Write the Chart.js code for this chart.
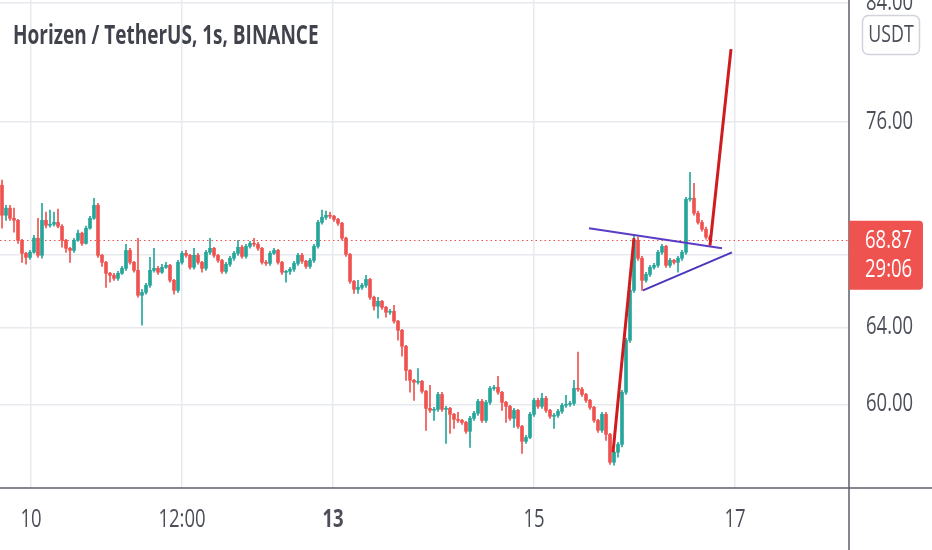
<!doctype html>
<html lang="en">
<head>
<meta charset="utf-8">
<title>Horizen / TetherUS, 1s, BINANCE</title>
<script src="https://cdn.jsdelivr.net/npm/chart.js@4.4.0/dist/chart.umd.min.js"></script>
<style>
  html, body { margin: 0; padding: 0; background: #fff; }
</style>
</head>
<body>
<canvas id="candles" width="932" height="550"></canvas>
<script>
// ZEN/USDT candles, one entry per candle (price scale is logarithmic)
const opens = [72.09,
  70.30,70.72,70.12,70.00,68.84,68.09,67.86,68.15,68.96,67.98,70.00,69.71,69.77,69.88,69.65,68.84,68.38,68.26,68.84,69.25,
  68.66,69.54,70.12,70.89,67.98,67.58,66.96,66.85,66.68,66.96,67.24,68.26,67.58,67.13,65.74,65.90,66.29,67.13,67.24,67.02,
  67.30,67.41,66.57,66.01,67.58,68.09,67.98,67.30,67.98,67.58,67.24,68.15,68.38,67.98,67.69,67.07,67.47,67.81,68.09,68.44,
  67.92,68.49,68.66,68.61,68.38,67.58,67.52,68.09,68.26,67.58,67.02,67.07,67.19,67.52,67.98,67.64,67.35,67.69,68.49,69.88,
  70.18,70.30,70.24,70.06,69.83,68.96,68.03,66.51,66.07,66.18,66.29,66.62,65.63,65.14,65.41,65.08,64.81,64.86,64.33,63.84,
  62.99,61.73,61.22,61.12,61.17,60.66,59.80,59.70,59.75,60.50,59.75,59.80,59.50,59.25,59.20,59.10,58.66,59.30,59.55,60.15,
  59.20,60.10,60.81,60.86,60.61,60.10,59.90,59.30,59.70,58.90,58.17,58.36,59.50,60.20,59.90,60.30,59.70,59.40,59.45,59.65,
  59.95,60.00,60.05,60.81,60.76,60.50,60.20,59.85,59.20,58.71,59.50,58.51,57.16,57.64,58.02,60.61,63.31,66.01,68.84,67.81,
  66.57,66.90,67.30,67.41,68.15,68.49,67.41,67.69,67.58,67.81,68.15,71.25,71.31,70.42,69.88,69.48,69.02];
const closes = [
  70.30,70.72,70.12,70.00,68.84,68.09,67.86,68.15,68.96,67.98,70.00,69.71,69.77,69.88,69.65,68.84,68.38,68.26,68.84,69.25,
  68.66,69.54,70.12,70.89,67.98,67.58,66.96,66.85,66.68,66.96,67.24,68.26,67.58,67.13,65.74,65.90,66.29,67.13,67.24,67.02,
  67.30,67.41,66.57,66.01,67.58,68.09,67.98,67.30,67.98,67.58,67.24,68.15,68.38,67.98,67.69,67.07,67.47,67.81,68.09,68.44,
  67.92,68.49,68.66,68.61,68.38,67.58,67.52,68.09,68.26,67.58,67.02,67.07,67.19,67.52,67.98,67.64,67.35,67.69,68.49,69.88,
  70.18,70.30,70.24,70.06,69.83,68.96,68.03,66.51,66.07,66.18,66.29,66.62,65.63,65.14,65.41,65.08,64.81,64.86,64.33,63.84,
  62.99,61.73,61.22,61.12,61.17,60.66,59.80,59.70,59.75,60.50,59.75,59.80,59.50,59.25,59.20,59.10,58.66,59.30,59.55,60.15,
  59.20,60.10,60.81,60.86,60.61,60.10,59.90,59.30,59.70,58.90,58.17,58.36,59.50,60.20,59.90,60.30,59.70,59.40,59.45,59.65,
  59.95,60.00,60.05,60.81,60.76,60.50,60.20,59.85,59.20,58.71,59.50,58.51,57.16,57.64,58.02,60.61,63.31,66.01,68.84,67.81,
  66.57,66.90,67.30,67.41,68.15,68.49,67.41,67.69,67.58,67.81,68.15,71.25,71.31,70.42,69.88,69.48,69.02,68.87];
const highs = [
  72.40,70.89,70.89,70.72,70.06,68.90,68.15,68.26,69.13,70.12,71.01,70.48,70.60,70.48,70.66,69.75,68.90,68.44,68.96,69.43,
  69.31,69.66,70.24,71.31,71.01,68.03,67.64,67.02,66.96,67.07,67.35,68.61,68.38,67.64,68.96,66.07,66.40,67.86,68.38,67.35,
  67.47,67.58,67.47,66.62,67.69,68.20,68.26,68.03,68.38,68.09,67.64,68.26,68.96,68.44,68.03,67.75,67.58,67.92,68.20,68.84,
  68.55,68.61,68.78,68.96,68.72,68.44,67.69,68.20,68.38,68.32,67.64,67.13,67.30,67.64,68.09,68.09,67.69,67.81,68.61,70.00,
  70.60,70.54,70.48,70.30,70.12,69.88,69.02,68.09,66.57,66.57,66.40,66.85,66.68,65.69,65.63,65.46,65.14,64.97,65.19,64.38,
  63.89,63.04,61.78,61.27,61.83,61.22,60.71,60.96,59.85,60.61,60.61,59.90,59.85,59.55,59.60,59.25,59.15,59.40,59.65,60.25,
  60.25,60.20,60.91,60.96,61.43,60.66,60.15,59.95,59.80,59.75,58.95,58.46,59.60,60.30,60.30,60.56,60.40,59.75,59.55,59.75,
  60.05,60.45,60.15,61.22,62.68,60.86,60.56,60.25,59.90,59.25,59.60,59.60,58.56,57.73,58.12,60.71,63.43,66.18,69.07,69.02,
  67.92,67.02,67.41,67.52,68.26,68.61,68.55,67.81,67.75,67.92,68.26,71.37,72.88,72.21,70.54,70.00,69.60,69.13];
const lows = [
  69.54,70.00,70.00,69.31,68.66,67.58,67.47,67.75,68.10,67.86,67.81,69.55,69.60,69.66,69.55,68.44,68.15,67.58,68.15,68.78,
  68.55,68.61,69.48,70.06,67.86,67.35,66.18,66.46,66.57,66.57,66.90,67.13,67.47,67.02,65.63,64.11,65.80,66.18,67.02,66.90,
  66.96,67.24,66.46,65.80,65.90,67.47,67.86,67.19,67.19,67.47,67.02,67.13,68.03,67.86,67.58,66.96,66.96,67.35,67.69,67.98,
  67.81,67.81,68.38,68.49,68.26,67.47,67.41,67.41,68.03,67.47,66.90,66.46,66.90,67.07,67.41,67.52,67.24,67.24,67.58,68.38,
  69.77,70.06,70.12,69.94,69.71,68.84,67.92,66.40,65.85,65.85,66.07,66.18,65.52,64.92,64.49,64.97,64.54,64.70,64.22,63.31,
  62.47,61.22,60.61,60.20,61.02,60.56,58.71,59.60,59.20,59.65,59.65,58.07,58.56,58.80,59.10,59.00,58.56,57.88,59.20,59.45,
  59.10,59.10,60.00,60.71,60.50,59.70,59.10,59.20,58.85,58.80,57.59,58.07,58.30,59.40,59.80,59.80,59.60,59.30,58.80,59.35,
  59.55,59.85,59.90,59.95,60.66,60.40,60.10,59.75,59.10,58.60,58.60,58.22,57.06,57.02,57.40,57.90,60.50,63.20,65.90,67.69,
  66.01,66.46,66.79,67.19,67.30,68.03,67.30,67.30,67.47,67.02,67.69,68.03,71.13,70.30,69.77,69.37,68.90,68.55];

const lastPrice = 68.87;
const countdown = '29:06';
const quoteCcy = 'USDT';
const title = 'Horizen / TetherUS, 1s, BINANCE';

// time axis: candle index where each date label sits
const xTickPos = [7.25, 45, 82.75, 133, 183.25];
const xTickLabels = ['10', '12:00', '13', '15', '17'];
const yTicks = [60, 64, 68, 76, 84];

// hand-drawn tools on the chart: [candle index, price]
const redLeg1 = [[152.75, 57.63], [158, 68.96]];
const redLeg2 = [[177, 68.55], [182.25, 80.8]];
const upperTrend = [[146.75, 69.54], [180, 68.38]];
const lowerTrend = [[160.25, 66.01], [182.5, 68.15]];

const UP = '#26a69a', DOWN = '#ef5350';
const FONT = '"Open Sans", sans-serif';
const TEXT = '#4c4f59';
const SQUEEZE = 0.74; // the screenshot text is horizontally narrow

const candleColor = closes.map((c, i) => c >= opens[i] ? UP : DOWN);
const bodies = closes.map((c, i) => ({ x: i, y: [opens[i], c] }));
const wicks = closes.map((c, i) => ({ x: i, y: [lows[i], highs[i]] }));
const toPts = arr => arr.map(p => ({ x: p[0], y: p[1] }));

function lineSet(pts, color, w) {
  return { type: 'line', data: toPts(pts), borderColor: color, borderWidth: w,
    pointRadius: 0, fill: false, tension: 0, order: 0 };
}

// narrow text: draw at x,y with a horizontal squeeze
function narrowText(ctx, txt, x, y, font, align, sx) {
  ctx.save();
  ctx.translate(x, y);
  ctx.scale(sx || SQUEEZE, 1);
  ctx.font = font;
  ctx.textAlign = align;
  ctx.textBaseline = 'middle';
  ctx.fillText(txt, 0, 0);
  ctx.restore();
}

const overlay = {
  id: 'overlay',
  beforeDatasetsDraw(chart) {
    const { ctx, chartArea: a, scales } = chart;
    const y = Math.round(scales.y.getPixelForValue(lastPrice)) + 0.5;
    ctx.save();
    ctx.strokeStyle = DOWN;
    ctx.lineWidth = 1.2;
    ctx.setLineDash([1.5, 3]);
    ctx.beginPath(); ctx.moveTo(a.left, y); ctx.lineTo(a.right, y); ctx.stroke();
    ctx.restore();
  },
  afterDraw(chart) {
    const { ctx, chartArea: a, scales } = chart;
    const W = chart.width, H = chart.height;
    ctx.save();
    // axis borders
    ctx.strokeStyle = '#5d606b';
    ctx.lineWidth = 1.5;
    ctx.beginPath();
    ctx.moveTo(a.right, 0); ctx.lineTo(a.right, H);
    ctx.moveTo(0, a.bottom); ctx.lineTo(W, a.bottom);
    ctx.stroke();

    // tick labels from the scales
    ctx.fillStyle = TEXT;
    scales.x.ticks.forEach((t, i) => {
      const x = scales.x.getPixelForValue(t.value);
      const w = i === 2 ? 'bold ' : '';
      narrowText(ctx, t.label, x, 520, w + '25px ' + FONT, 'center');
    });
    scales.y.ticks.forEach(t => {
      if (!t.label) return;
      const y = scales.y.getPixelForValue(t.value);
      narrowText(ctx, t.label, a.right + 17, y, '25px ' + FONT, 'left');
    });

    // title
    ctx.fillStyle = '#40434c';
    narrowText(ctx, title, 13, 37, 'bold 26px ' + FONT, 'left', 0.73);

    // currency badge
    ctx.beginPath();
    ctx.roundRect(862.5, 15.5, 57, 39, 6);
    ctx.fillStyle = '#fff'; ctx.fill();
    ctx.strokeStyle = '#d1d4dc'; ctx.lineWidth = 1.5; ctx.stroke();
    ctx.fillStyle = TEXT;
    narrowText(ctx, quoteCcy, 891, 35, '24px ' + FONT, 'center');

    // last price label
    const py = scales.y.getPixelForValue(lastPrice);
    ctx.beginPath();
    ctx.roundRect(a.right, py - 19, 74, 69, [0, 4, 4, 0]);
    ctx.fillStyle = DOWN; ctx.fill();
    ctx.fillStyle = '#fff';
    narrowText(ctx, lastPrice.toFixed(2), a.right + 16, py + 1, '25px ' + FONT, 'left');
    narrowText(ctx, countdown, a.right + 16, py + 30, '25px ' + FONT, 'left');
    ctx.restore();
  }
};

new Chart(document.getElementById('candles'), {
  type: 'bar',
  data: {
    datasets: [
      { data: bodies, backgroundColor: candleColor, barThickness: 3, minBarLength: 1,
        grouped: false, borderWidth: 0, order: 1 },
      { data: wicks, backgroundColor: candleColor, barThickness: 1,
        grouped: false, borderWidth: 0, order: 2 },
      lineSet(redLeg1, '#d01c1f', 3),
      lineSet(redLeg2, '#d01c1f', 3),
      lineSet(upperTrend, '#5b3cc4', 2),
      lineSet(lowerTrend, '#4a35bd', 2)
    ]
  },
  options: {
    responsive: false,
    animation: false,
    events: [],
    layout: { padding: 0 },
    plugins: { legend: { display: false }, tooltip: { enabled: false }, title: { display: false } },
    scales: {
      x: {
        type: 'linear', min: -0.5, max: 211.75, offset: false,
        grid: { color: '#e6e9ed', lineWidth: 1.5, drawTicks: false, offset: false },
        border: { display: false },
        ticks: { display: false, autoSkip: false, callback: (v, i) => xTickLabels[i] },
        afterBuildTicks: s => { s.ticks = xTickPos.map(v => ({ value: v })); },
        afterFit: s => { s.height = 62; s.paddingLeft = 0; s.paddingRight = 0; }
      },
      y: {
        type: 'logarithmic', position: 'right', min: 55.94, max: 84.19,
        grid: { color: '#e6e9ed', lineWidth: 1.5, drawTicks: false },
        border: { display: false },
        ticks: { display: false, autoSkip: false,
          callback: v => v === 68 ? '' : Number(v).toFixed(2) },
        afterBuildTicks: s => { s.ticks = yTicks.map(v => ({ value: v })); },
        afterFit: s => { s.width = 83; s.paddingTop = 0; s.paddingBottom = 0; }
      }
    }
  },
  plugins: [overlay]
});
</script>
</body>
</html>
